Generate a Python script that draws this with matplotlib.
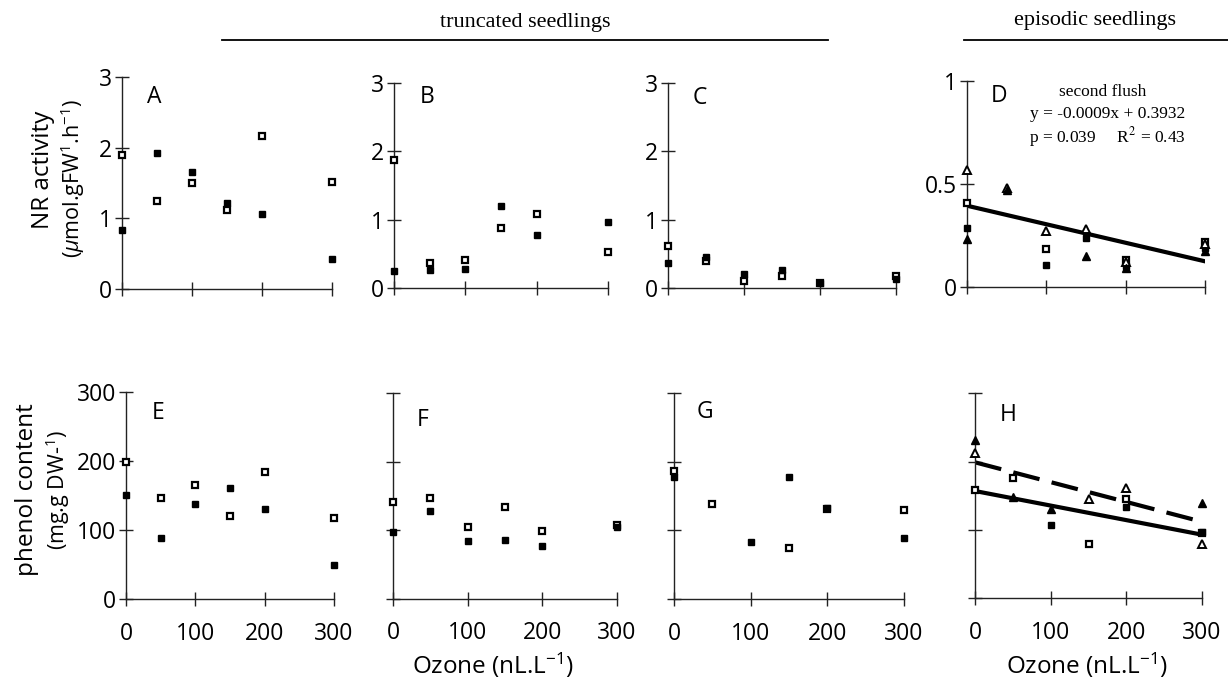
import numpy as np
import matplotlib
matplotlib.use("Agg")
import matplotlib.pyplot as plt
from matplotlib.lines import Line2D

plt.rcParams['font.family'] = ['Open Sans', 'DejaVu Sans']
plt.rcParams['font.weight'] = 'medium'
plt.rcParams['mathtext.fontset'] = 'custom'
plt.rcParams['mathtext.rm'] = 'Open Sans:medium'
plt.rcParams['mathtext.it'] = 'Open Sans:italic:medium'

nan = np.nan
ozone = [0, 50, 100, 150, 200, 300]

# Panel data (NR activity)
A_open = [1.89, 1.24, 1.50, 1.12, 2.17, 1.52]
A_filled = [0.83, 1.93, 1.65, 1.22, 1.06, 0.43]
B_open = [1.87, 0.36, 0.41, 0.88, 1.08, 0.52]
B_filled = [0.25, 0.27, 0.28, 1.20, 0.77, 0.96]
C_open = [0.62, 0.40, 0.10, 0.18, 0.07, 0.18]
C_filled = [0.37, 0.46, 0.21, 0.27, 0.08, 0.13]
D_open_sq = [0.405, nan, 0.183, nan, 0.13, 0.215]
D_filled_sq = [0.286, nan, 0.104, 0.238, 0.10, 0.19]
D_open_tri = [0.565, 0.48, 0.27, 0.28, 0.12, 0.205]
D_filled_tri = [0.23, 0.47, nan, 0.15, 0.09, 0.175]
D_slope, D_intercept = -0.0009, 0.3932

# Panel data (phenol content)
E_open = [198, 146, 165, 121, 184, 117]
E_filled = [150, 89, 138, 161, 130, 50]
F_open = [141, 147, 105, 134, 99, 108]
F_filled = [98, 128, 85, 86, 77, 104]
G_open = [187, 139, nan, 75, 131, 129]
G_filled = [178, nan, 83, 178, 132, 89]
H_open_sq = [158, 176, nan, 79, 145, 96]
H_filled_sq = [nan, nan, 107, nan, 133, 97]
H_open_tri = [213, nan, nan, 146, 162, 79]
H_filled_tri = [232, 148, 130, nan, nan, 140]
H_solid = (-0.213, 157)
H_dashed = (-0.29, 199)

W, Hh = 1228, 691
fig = plt.figure(figsize=(W / 100, Hh / 100), dpi=100)


def px_axes(x0, x1, y0, y1):
    return fig.add_axes([x0 / W, 1 - y0 / Hh, (x1 - x0) / W, (y0 - y1) / Hh])


def style(ax, ymax, yticks, ylabels, xlabels, letter, lpos):
    ax.set_xlim(0, 300)
    ax.set_ylim(0, ymax)
    for s in ['top', 'right']:
        ax.spines[s].set_visible(False)
    for s in ['left', 'bottom']:
        ax.spines[s].set_linewidth(1.0)
        ax.spines[s].set_color('#222222')
    ax.set_xticks([0, 100, 200, 300])
    ax.set_yticks(yticks)
    ax.tick_params(direction='inout', length=10, width=1.0, color='#222222',
                   labelsize=16.5)
    ax.tick_params(axis='x', pad=11)
    ax.tick_params(axis='y', pad=2)
    if xlabels:
        ax.set_xticklabels(['0', '100', '200', '300'])
    else:
        ax.set_xticklabels([])
    if ylabels is None:
        ax.set_yticklabels([])
    else:
        ax.set_yticklabels(ylabels)
    ax.patch.set_alpha(0)
    ax.text(lpos[0], lpos[1], letter, transform=ax.transAxes, fontsize=16.5,
            ha='left', va='center')


def sq(ax, y, filled):
    if filled:
        ax.plot(ozone, y, ls='none', marker='s', ms=5, mfc='black', mec='black',
                clip_on=False, zorder=3)
    else:
        ax.plot(ozone, y, ls='none', marker='s', ms=4.3, mfc='white', mec='black',
                mew=1.6, clip_on=False, zorder=3)


def tri(ax, y, filled):
    if filled:
        ax.plot(ozone, y, ls='none', marker='^', ms=6, mfc='black', mec='black',
                clip_on=False, zorder=3)
    else:
        ax.plot(ozone, y, ls='none', marker='^', ms=5.5, mfc='white', mec='black',
                mew=1.4, clip_on=False, zorder=3)


# Top row
axA = px_axes(122, 332, 289, 77)
style(axA, 3, [0, 1, 2, 3], ['0', '1', '2', '3'], False, 'A', (0.12, 0.905))
sq(axA, A_open, False); sq(axA, A_filled, True)

axB = px_axes(394, 608, 288, 82.7)
style(axB, 3, [0, 1, 2, 3], ['0', '1', '2', '3'], False, 'B', (0.12, 0.93))
sq(axB, B_open, False); sq(axB, B_filled, True)

axC = px_axes(668, 896, 288, 82.7)
style(axC, 3, [0, 1, 2, 3], ['0', '1', '2', '3'], False, 'C', (0.11, 0.925))
sq(axC, C_open, False); sq(axC, C_filled, True)

axD = px_axes(967, 1205, 286.7, 80.7)
style(axD, 1, [0, 0.5, 1], ['0', '0.5', '1'], False, 'D', (0.10, 0.925))
xl = np.array([0, 300])
axD.plot(xl, D_slope * xl + D_intercept, color='black', lw=3, zorder=2)
sq(axD, D_open_sq, False); sq(axD, D_filled_sq, True)
tri(axD, D_open_tri, False); tri(axD, D_filled_tri, True)
serif = ['Liberation Serif', 'DejaVu Serif']
axD.text(0.57, 0.945, 'second flush', transform=axD.transAxes, family=serif,
         fontsize=12.5, weight='normal', ha='center', va='center')
axD.text(0.59, 0.84, 'y = -0.0009x + 0.3932', transform=axD.transAxes,
         family=serif, fontsize=12.5, weight='normal', ha='center', va='center')
axD.text(0.59, 0.725, 'p = 0.039     R$^{2}$ = 0.43', transform=axD.transAxes,
         family=serif, fontsize=12.5, weight='normal', ha='center', va='center',
         math_fontfamily='stix')

# Bottom row
axE = px_axes(126, 334, 599.3, 391.7)
style(axE, 300, [0, 100, 200, 300], ['0', '100', '200', '300'], True, 'E', (0.125, 0.896))
sq(axE, E_open, False); sq(axE, E_filled, True)

axF = px_axes(393, 617, 598.7, 393.3)
style(axF, 300, [0, 100, 200, 300], None, True, 'F', (0.105, 0.87))
sq(axF, F_open, False); sq(axF, F_filled, True)

axG = px_axes(674, 904, 599.3, 392.7)
style(axG, 300, [0, 100, 200, 300], None, True, 'G', (0.10, 0.909))
sq(axG, G_open, False); sq(axG, G_filled, True)

axH = px_axes(975, 1202, 598.3, 393.3)
style(axH, 300, [0, 100, 200, 300], None, True, 'H', (0.11, 0.893))
axH.plot(xl, H_solid[0] * xl + H_solid[1], color='black', lw=3, zorder=2)
axH.plot(xl, H_dashed[0] * xl + H_dashed[1], color='black', lw=3, zorder=2,
         dashes=(6.5, 3))
sq(axH, H_open_sq, False); sq(axH, H_filled_sq, True)
tri(axH, H_open_tri, False); tri(axH, H_filled_tri, True)

# Y labels
fig.text(43 / W, 1 - 170 / Hh, 'NR activity', rotation=90, fontsize=17.5,
         ha='center', va='center')
fig.text(73 / W, 1 - 178 / Hh, '($\\mu$mol.gFW$^{1}$.h$^{-1}$)', rotation=90,
         fontsize=15.5, ha='center', va='center')
fig.text(27 / W, 1 - 490 / Hh, 'phenol content', rotation=90, fontsize=17.5,
         ha='center', va='center')
fig.text(58 / W, 1 - 490 / Hh, '(mg.g DW-$^{1}$)', rotation=90, fontsize=15.5,
         ha='center', va='center')

# X labels
fig.text(493 / W, 1 - 665 / Hh, 'Ozone (nL.L$^{-1}$)', fontsize=17.5,
         ha='center', va='center')
fig.text(1087 / W, 1 - 665 / Hh, 'Ozone (nL.L$^{-1}$)', fontsize=17.5,
         ha='center', va='center')

# Headers
fig.text(525 / W, 1 - 22 / Hh, 'truncated seedlings', family=serif, fontsize=16,
         weight='normal', ha='center', va='center')
fig.add_artist(Line2D([222 / W, 828 / W], [1 - 40 / Hh, 1 - 40 / Hh],
                      transform=fig.transFigure, color='black', lw=1.3))
fig.text(1095 / W, 1 - 20 / Hh, 'episodic seedlings', family=serif, fontsize=16,
         weight='normal', ha='center', va='center')
fig.add_artist(Line2D([964 / W, 1228 / W], [1 - 40 / Hh, 1 - 40 / Hh],
                      transform=fig.transFigure, color='black', lw=1.3))

fig.savefig('out.png', dpi=100)
